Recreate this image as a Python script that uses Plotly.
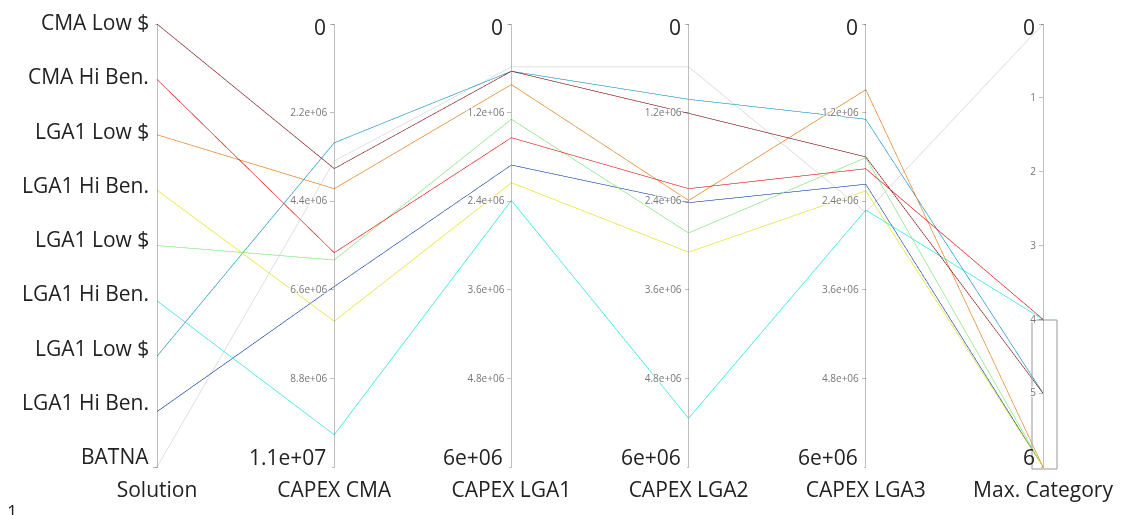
import plotly.graph_objects as go

# ---- data ----
solution_labels = ["BATNA", "LGA1 Hi Ben.", "LGA1 Low $", "LGA1 Hi Ben.", "LGA1 Low $",
                   "LGA1 Hi Ben.", "LGA1 Low $", "CMA Hi Ben.", "CMA Low $"]
solution = [9, 8, 7, 6, 5, 4, 3, 2, 1]
capex_cma = [3.59e6, 5.68e6, 4.09e6, 7.38e6, 5.86e6, 10.2e6, 2.95e6, 6.52e6, 3.4e6]
capex_lga1 = [0.64e6, 1.54e6, 0.82e6, 2.15e6, 1.29e6, 2.39e6, 0.64e6, 1.91e6, 0.58e6]
capex_lga2 = [1.21e6, 2.23e6, 2.39e6, 3.09e6, 2.83e6, 5.34e6, 1.02e6, 2.42e6, 0.58e6]
capex_lga3 = [1.80e6, 1.96e6, 0.89e6, 2.26e6, 1.81e6, 2.52e6, 1.29e6, 2.17e6, 2.55e6]
max_category = [5, 4, 6, 6, 6, 4, 5, 6, 0]
selected_category = [4, 6]

cma_ticks = [0, 2.2e6, 4.4e6, 6.6e6, 8.8e6, 1.1e7]
cma_text = ["", "2.2e+06", "4.4e+06", "6.6e+06", "8.8e+06", ""]
lga_ticks = [0, 1.2e6, 2.4e6, 3.6e6, 4.8e6, 6e6]
lga_text = ["", "1.2e+06", "2.4e+06", "3.6e+06", "4.8e+06", ""]
cat_ticks = [0, 1, 2, 3, 4, 5, 6]
cat_text = ["", "1", "2", "3", "4", "5", ""]
extent_top = ["0", "0", "0", "0", "0"]
extent_bottom = ["1.1e+07", "6e+06", "6e+06", "6e+06", "6"]

FONT = "Open Sans, Liberation Sans, Arial, sans-serif"

# Jet colours; the filtered-out line (outside the category brush) is drawn as faint context
colorscale = [[0, "#ececec"], [0.1249, "#ececec"], [0.125, "rgb(0,60,170)"],
              [0.375, "rgb(5,255,255)"], [0.625, "rgb(255,255,0)"],
              [0.875, "rgb(250,0,0)"], [1, "rgb(128,0,0)"]]

dims = [
    dict(label="Solution", values=solution, range=[1, 9],
         tickvals=list(range(1, 10)), ticktext=[""] * 9),
    dict(label="CAPEX CMA", values=capex_cma, range=[1.1e7, 0],
         tickvals=cma_ticks, ticktext=cma_text),
    dict(label="CAPEX LGA1", values=capex_lga1, range=[6e6, 0],
         tickvals=lga_ticks, ticktext=lga_text),
    dict(label="CAPEX LGA2", values=capex_lga2, range=[6e6, 0],
         tickvals=lga_ticks, ticktext=lga_text),
    dict(label="CAPEX LGA3", values=capex_lga3, range=[6e6, 0],
         tickvals=lga_ticks, ticktext=lga_text),
    dict(label="Max. Category", values=max_category, range=[6, 0],
         tickvals=cat_ticks, ticktext=cat_text),
]

fig = go.Figure(go.Parcoords(
    line=dict(color=solution, colorscale=colorscale, cmin=1, cmax=9),
    dimensions=dims,
    labelside="bottom",
    labelfont=dict(family=FONT, size=21, color="#222"),
    tickfont=dict(family=FONT, size=10, color="#777"),
    rangefont=dict(family=FONT, size=21, color="#222"),
))

n = len(dims)
ann = []
# Solution category labels
for v, t in zip(range(1, 10), solution_labels):
    ann.append(dict(x=0, y=(v - 1) / 8, xref="paper", yref="paper", text=t,
                    showarrow=False, xanchor="right", yanchor="middle", xshift=-6,
                    yshift=(9 - v) * 1.6,
                    font=dict(family=FONT, size=21, color="#222")))
# axis extent labels
for i in range(1, n):
    x = i / (n - 1)
    ann.append(dict(x=x, y=1, xref="paper", yref="paper", text=extent_top[i - 1],
                    showarrow=False, xanchor="right", yanchor="middle", xshift=-6, yshift=-5,
                    font=dict(family=FONT, size=21, color="#222")))
    ann.append(dict(x=x, y=0, xref="paper", yref="paper", text=extent_bottom[i - 1],
                    showarrow=False, xanchor="right", yanchor="bottom", xshift=-6, yshift=-4,
                    font=dict(family=FONT, size=21, color="#222")))
ann.append(dict(x=0, y=0, xref="paper", yref="paper", text="1", showarrow=False,
                xanchor="left", yanchor="top", xshift=-152, yshift=-28,
                font=dict(family=FONT, size=18, color="#222")))

# brush outline on the Max. Category axis
cat_lo, cat_hi = dims[-1]["range"][1], dims[-1]["range"][0]
y_of = lambda v: (cat_hi - v) / (cat_hi - cat_lo)
shapes = [dict(type="rect", xref="paper", yref="paper", xsizemode="pixel", xanchor=1,
               x0=-11, x1=14, y0=y_of(selected_category[1]), y1=y_of(selected_category[0]),
               line=dict(color="#999", width=1), fillcolor="rgba(0,0,0,0)", layer="above")]

fig.update_layout(
    width=1135, height=515,
    margin=dict(l=157, r=92, t=22, b=46),
    paper_bgcolor="white", plot_bgcolor="white",
    annotations=ann, shapes=shapes,
)

fig.write_html("out.html")
